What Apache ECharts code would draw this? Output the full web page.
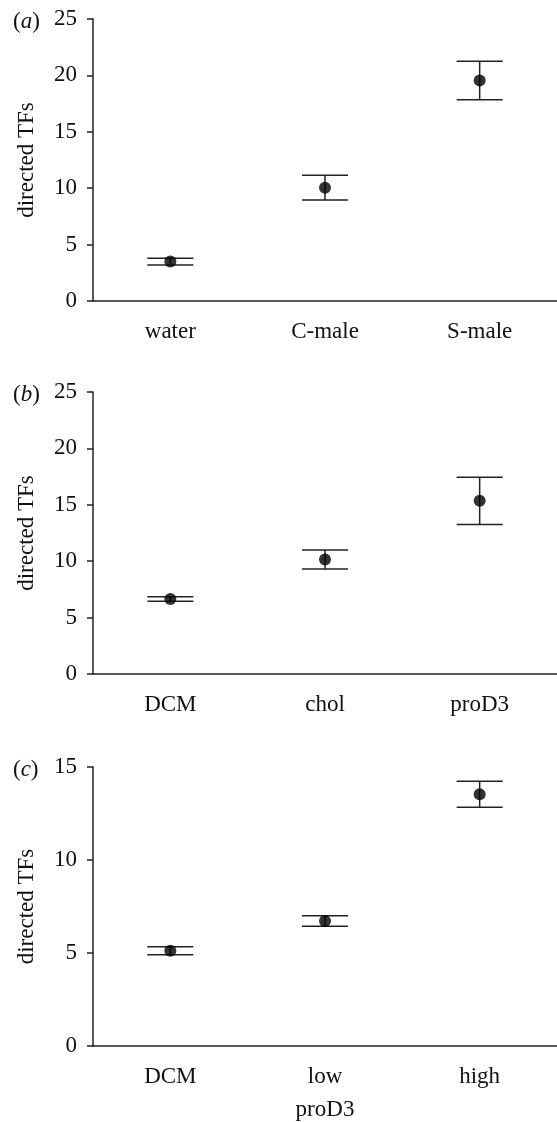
<!DOCTYPE html>
<html>
<head>
<meta charset="utf-8">
<script src="https://cdn.jsdelivr.net/npm/echarts@6/dist/echarts.min.js"></script>
<style>
  html, body { margin: 0; padding: 0; background: #fff; }
  #chart { width: 557px; height: 1122px; }
</style>
</head>
<body>
<div id="chart"></div>
<script>
// (a)
const catsA = ["water", "C-male", "S-male"];
const meanA = [3.5, 10.05, 19.55];
const errA = [0.3, 1.1, 1.7];
// (b)
const catsB = ["DCM", "chol", "proD3"];
const meanB = [6.65, 10.15, 15.35];
const errB = [0.2, 0.85, 2.1];
// (c)
const catsC = ["DCM", "low", "high"];
const meanC = [5.12, 6.72, 13.53];
const errC = [0.22, 0.28, 0.7];

const ticksAB = [0, 5, 10, 15, 20, 25];
const ticksC = [0, 5, 10, 15];

const FONT = "Liberation Serif";
const FS = 23;
const INK = "#111";
const LINE = "#222";

const panels = [
  { tag: "a", cats: catsA, mean: meanA, err: errA, ticks: ticksAB, top: 19, xName: "" },
  { tag: "b", cats: catsB, mean: meanB, err: errB, ticks: ticksAB, top: 392, xName: "" },
  { tag: "c", cats: catsC, mean: meanC, err: errC, ticks: ticksC, top: 767, xName: "proD3" }
];

const chart = echarts.init(document.getElementById("chart"));

const option = {
  backgroundColor: "#fff",
  animation: false,
  title: panels.map(p => ({
    text: "{p|(}{i|" + p.tag + "}{p|)}",
    left: 13,
    top: p.top - 9,
    padding: 0,
    textStyle: {
      rich: {
        p: { fontFamily: FONT, fontSize: FS, fontWeight: "normal", color: INK },
        i: { fontFamily: FONT, fontSize: FS, fontWeight: "normal", fontStyle: "italic", color: INK }
      }
    }
  })),
  grid: panels.map(p => ({ left: 93, width: 468, top: p.top, height: 282 })),
  xAxis: panels.map((p, i) => ({
    type: "category",
    gridIndex: i,
    data: p.cats,
    name: p.xName,
    nameLocation: "middle",
    nameGap: 52,
    nameTextStyle: { fontFamily: FONT, fontSize: FS, color: INK },
    axisLine: { lineStyle: { color: LINE, width: 1.5 } },
    axisTick: { alignWithLabel: true, length: 7, lineStyle: { color: LINE, width: 1.5 } },
    axisLabel: { fontFamily: FONT, fontSize: FS, color: INK, margin: 19 },
    splitLine: { show: false }
  })),
  yAxis: panels.map((p, i) => ({
    type: "value",
    gridIndex: i,
    min: p.ticks[0],
    max: p.ticks[p.ticks.length - 1],
    interval: p.ticks[1] - p.ticks[0],
    name: "directed TFs",
    nameLocation: "middle",
    nameGap: 55,
    nameTextStyle: { fontFamily: FONT, fontSize: FS, color: INK },
    axisLine: { show: true, lineStyle: { color: LINE, width: 1.5 } },
    axisTick: { show: true, length: 6, lineStyle: { color: LINE, width: 1.5 } },
    axisLabel: { fontFamily: FONT, fontSize: FS, color: INK, margin: 16 },
    splitLine: { show: false }
  })),
  series: panels.flatMap((p, i) => [
    {
      type: "custom",
      xAxisIndex: i,
      yAxisIndex: i,
      z: 2,
      data: p.mean.map((m, k) => [k, m - p.err[k], m + p.err[k]]),
      renderItem: (params, api) => {
        const lo = api.coord([api.value(0), api.value(1)]);
        const hi = api.coord([api.value(0), api.value(2)]);
        const w = 23;
        const style = { stroke: LINE, lineWidth: 1.5 };
        return {
          type: "group",
          children: [
            { type: "line", shape: { x1: lo[0], y1: lo[1], x2: hi[0], y2: hi[1] }, style },
            { type: "line", shape: { x1: lo[0] - w, y1: lo[1], x2: lo[0] + w, y2: lo[1] }, style },
            { type: "line", shape: { x1: hi[0] - w, y1: hi[1], x2: hi[0] + w, y2: hi[1] }, style }
          ]
        };
      }
    },
    {
      type: "scatter",
      xAxisIndex: i,
      yAxisIndex: i,
      z: 3,
      symbol: "circle",
      symbolSize: 12,
      itemStyle: { color: "#000" },
      data: p.mean.map((m, k) => [k, m])
    }
  ])
};

chart.setOption(option);
</script>
</body>
</html>
